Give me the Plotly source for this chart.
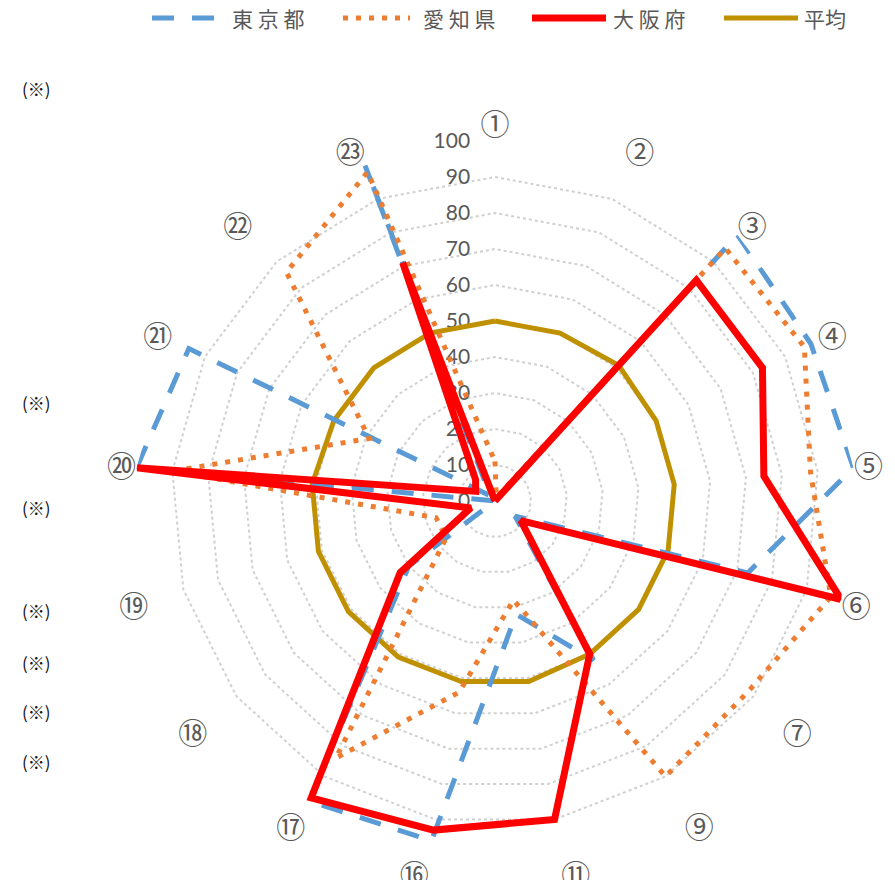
import plotly.graph_objects as go

# ---- data ----
categories = ["①", "②", "③", "④", "⑤", "⑥", "⑦", "⑨", "⑪", "⑯", "⑰", "⑱", "⑲", "⑳", "㉑", "㉒", "㉓"]
tokyo = [0, 0, 100, 98, 100, 73, 7, 52, 32, 96, 98, 30, 0, 100, 95, 2, 100]
aichi = [11, 1, 95, 96, 88, 97, 88, 90, 28, 54, 84, 17, 17, 90, 39, 86, 98]
osaka = [0, 0, 83, 83, 75, 100, 9, 50, 90, 93, 97, 33, 7, 100, 6, 8, 71]
average = [50, 50, 51, 50, 50, 50, 50, 50, 51, 51, 51, 51, 51, 51, 50, 50, 50]
series_names = ["東 京 都", "愛 知 県", "大 阪 府", "平均"]
radial_tickvals = list(range(0, 101, 10))
note_text = "(※)"

# page body has an 8px margin: figure is placed at (8, 8) in the window
OFF = 8
FW, FH = 895 - OFF, 880 - OFF
GRAY = "#595959"


def px_x(x):
    return (x - OFF) / FW


def px_y(y):
    return 1 - (y - OFF) / FH


styles = {
    "東 京 都": dict(color="#5B9BD5", width=5, dash="22px,18px"),
    "愛 知 県": dict(color="#ED7D31", width=5, dash="5px,8px"),
    "大 阪 府": dict(color="#FF0000", width=7, dash="solid"),
    "平均": dict(color="#BF9000", width=5, dash="solid"),
}
values = dict(zip(series_names, [tokyo, aichi, osaka, average]))

fig = go.Figure()
draw_order = ["平均", "東 京 都", "愛 知 県", "大 阪 府"]
for name in draw_order:
    v = values[name]
    fig.add_trace(go.Scatterpolar(
        r=v + v[:1], theta=categories + categories[:1], mode="lines",
        name=name, line=styles[name], showlegend=False, hoverinfo="skip"))

# polar geometry in window pixels: center ~ (495,501), radius 360 px
cx, cy, R = 495, 501, 360
fig.update_layout(
    width=FW, height=FH, autosize=False,
    margin=dict(l=0, r=0, t=0, b=0),
    paper_bgcolor="white", plot_bgcolor="white",
    showlegend=False,
    polar=dict(
        domain=dict(x=[px_x(cx - R), px_x(cx + R)], y=[px_y(cy + R), px_y(cy - R)]),
        bgcolor="white",
        gridshape="linear",
        radialaxis=dict(
            range=[0, 100], tickvals=radial_tickvals, ticks="outside", ticklen=17,
            tickcolor="rgba(0,0,0,0)", showline=False,
            angle=90, tickangle=90, side="counterclockwise",
            gridcolor="#D0D0D0", griddash="dot", gridwidth=1.5,
            tickfont=dict(family="Lato, Open Sans, sans-serif", size=21, color=GRAY),
            layer="below traces",
        ),
        angularaxis=dict(
            direction="clockwise", rotation=90, type="category",
            categoryorder="array", categoryarray=categories,
            showgrid=False, showline=False, ticks="",
            tickfont=dict(family="Noto Sans CJK JP", size=29, color=GRAY),
        ),
    ),
)

# custom legend
leg_y = px_y(18)
leg_sym = [(152, 215), (343, 410), (532, 606), (724, 798)]
leg_txt = [230, 421, 611, 802]
for name, (x0, x1), tx in zip(series_names, leg_sym, leg_txt):
    st = styles[name]
    fig.add_shape(type="line", xref="paper", yref="paper", x0=px_x(x0), x1=px_x(x1), y0=leg_y, y1=leg_y,
                  line=dict(color=st["color"], width=st["width"], dash=st["dash"]))
    fig.add_annotation(xref="paper", yref="paper", x=px_x(tx), y=leg_y, xanchor="left", yanchor="middle",
                       text=name, showarrow=False,
                       font=dict(family="Noto Sans CJK JP", size=21, color=GRAY))

# (※) notes on left
for ny in [88, 402, 507, 610, 662, 711, 761]:
    fig.add_annotation(xref="paper", yref="paper", x=px_x(36), y=px_y(ny), xanchor="center", yanchor="middle",
                       text=note_text, showarrow=False,
                       font=dict(family="Noto Sans CJK JP", size=17, color="#111111"))

fig.write_html("out.html")
